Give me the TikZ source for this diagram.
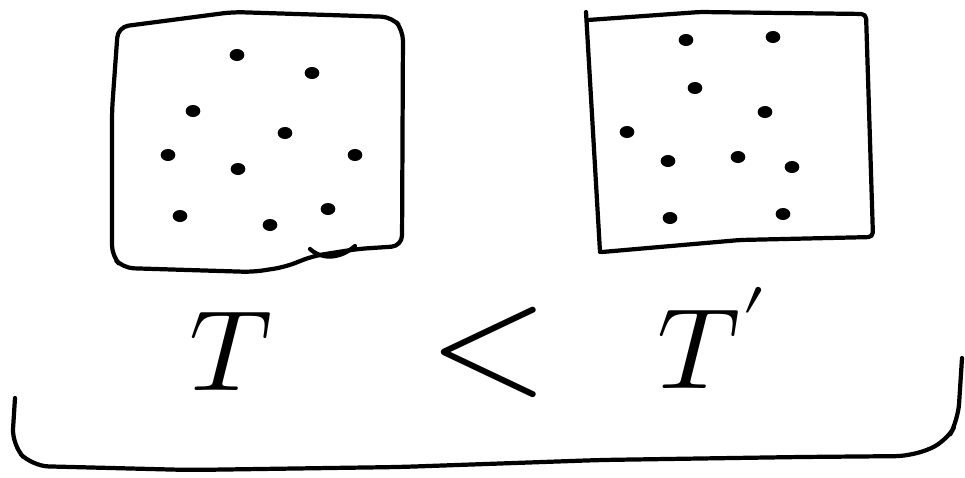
\documentclass[tikz,border=0pt]{standalone}
\usepackage{unicode-math}
\usetikzlibrary{shapes.geometric}
\tikzstyle{pen} = [draw=black, line width=3.6pt, line cap=round, line join=round]
\tikzstyle{speck} = [ellipse, fill=black, inner sep=0pt, minimum width=4.4mm, minimum height=3.6mm]
\tikzstyle{bigmath} = [inner sep=0pt, font=\fontsize{98}{100}\selectfont]

\begin{document}
\begin{tikzpicture}[x=0.03cm, y=-0.03cm]
    \useasboundingbox (0,0) rectangle (965,477);

    % left box
    \draw[pen, rounded corners=9pt] (118,27) -- (233,12) -- (392,17)
        -- (403,30) -- (402,246) -- (357,249) -- (313,256) -- (285,267)
        -- (253,272) -- (123,268) -- (112,256) -- (112,110) -- cycle;
    \draw[pen] (310,249) .. controls (322,260) and (340,259) .. (355,246);
    % right box
    \draw[pen, rounded corners=4pt] (588,20) -- (700,12) -- (866,14)
        -- (873,237) -- (740,240) -- (602,252);
    \draw[pen] (586,12) -- (600,252);

    % specks
    \foreach \px/\py [count=\i] in {237/55, 312/73, 193/111, 285/133, 168/155,
        355/155, 238/169, 180/216, 270/225, 328/209}
        \node (ls\i) [speck] at (\px,\py) {};
    \foreach \px/\py [count=\i] in {686/40, 773/37, 695/88, 765/112, 627/132,
        668/161, 738/157, 792/167, 670/218, 783/214}
        \node (rs\i) [speck] at (\px,\py) {};

    % relation
    \node (tl) [bigmath] at (232,352) {$T$};
    \node (lt) [bigmath, font=\fontsize{130}{130}\selectfont] at (489,352) {$<$};
    \node (tr) [bigmath] at (712,338) {$T'$};

    % bracket
    \draw[pen, rounded corners=14pt] (15,398) -- (12,445) -- (32,466)
        -- (190,470) -- (400,467) -- (600,460) -- (800,457) -- (912,456)
        -- (946,442) -- (958,420) -- (962,358);
\end{tikzpicture}
\end{document}
